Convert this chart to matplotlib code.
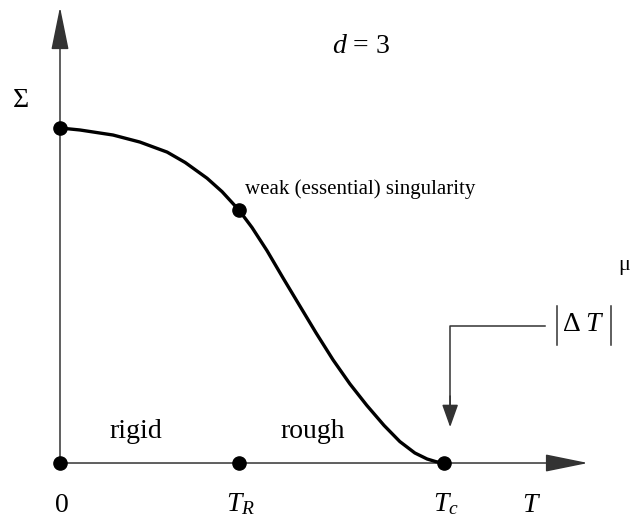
import matplotlib
matplotlib.use("Agg")
import matplotlib.pyplot as plt
import numpy as np

plt.rcParams["font.family"] = ["Liberation Serif", "DejaVu Serif"]
plt.rcParams["mathtext.fontset"] = "custom"
plt.rcParams["mathtext.rm"] = "Liberation Serif"
plt.rcParams["mathtext.it"] = "Liberation Serif:italic"

# surface stiffness Sigma(T), scaled so that Sigma(0) = 1 and T_c = 1
temps = np.array([0.0, 0.052, 0.138, 0.208, 0.279, 0.326, 0.383, 0.422, 0.466,
                  0.500, 0.539, 0.581, 0.625, 0.667, 0.711, 0.755, 0.799, 0.844,
                  0.885, 0.924, 0.956, 0.979, 1.0])
sigma = np.array([1.0, 0.994, 0.979, 0.958, 0.928, 0.897, 0.850, 0.810, 0.755,
                  0.703, 0.634, 0.552, 0.468, 0.388, 0.308, 0.236, 0.172, 0.112,
                  0.064, 0.030, 0.012, 0.004, 0.0])

T_R = 0.466
T_c = 1.0
sigma_0 = 1.0
sigma_R = 0.755

special_T = [0.0, T_R, T_c]
special_labels = ["0", r"$T_R$", r"$T_c$"]

fig = plt.figure(figsize=(6.31, 5.21), dpi=100)
ax = fig.add_axes([0, 0, 1, 1])
ax.set_xlim(-0.15625, 1.487)
ax.set_ylim(-0.1731, 1.382)
ax.axis("off")

axis_col = "#333333"
# axes with arrowheads
for tip in [(1.375, 0), (0, 1.361)]:
    ax.annotate("", xy=tip, xytext=(0, 0),
                arrowprops=dict(arrowstyle="-|>,head_length=2.7,head_width=0.55",
                                mutation_scale=10, lw=1.1, color=axis_col,
                                shrinkA=0, shrinkB=0))

ax.plot(temps, sigma, color="black", lw=2.4, solid_capstyle="round", zorder=3)

# marked points
ax.plot(special_T, [0, 0, 0], "o", color="black", ms=9.5, zorder=4)
ax.plot([0, T_R], [sigma_0, sigma_R], "o", color="black", ms=9.5, zorder=4)

for t, lab in zip(special_T, special_labels):
    ax.text(t + 0.004, -0.145, lab, fontsize=20, ha="center", va="baseline")
ax.text(1.228, -0.145, r"$T$", fontsize=20, ha="center", va="baseline")
ax.text(-0.102, 1.081, "Σ", fontsize=20, ha="center", va="center")
ax.text(0.784, 1.242, r"$d$ = 3", fontsize=20, ha="center", va="center")

ax.text(0.482, 0.818, "weak (essential) singularity", fontsize=15,
        ha="left", va="center")
ax.text(0.198, 0.075, "rigid", fontsize=20, ha="center", va="baseline")
ax.text(0.659, 0.075, "rough", fontsize=20, ha="center", va="baseline")

# critical behaviour near T_c
ax.plot([1.263, 1.016, 1.016], [0.409, 0.409, 0.16], color=axis_col, lw=1.1)
ax.annotate("", xy=(1.016, 0.107), xytext=(1.016, 0.2),
            arrowprops=dict(arrowstyle="-|>,head_length=1.4,head_width=0.5",
                            mutation_scale=10, lw=1.1, color=axis_col,
                            shrinkA=0, shrinkB=0))
ax.plot([1.294, 1.294], [0.352, 0.468], color=axis_col, lw=1.1)
ax.plot([1.435, 1.435], [0.352, 0.468], color=axis_col, lw=1.1)
ax.text(1.307, 0.394, r"$\Delta\;T$", fontsize=20, ha="left", va="baseline")
ax.text(1.468, 0.575, "μ", fontsize=16, ha="center", va="baseline")

fig.savefig("out.png", dpi=100)
